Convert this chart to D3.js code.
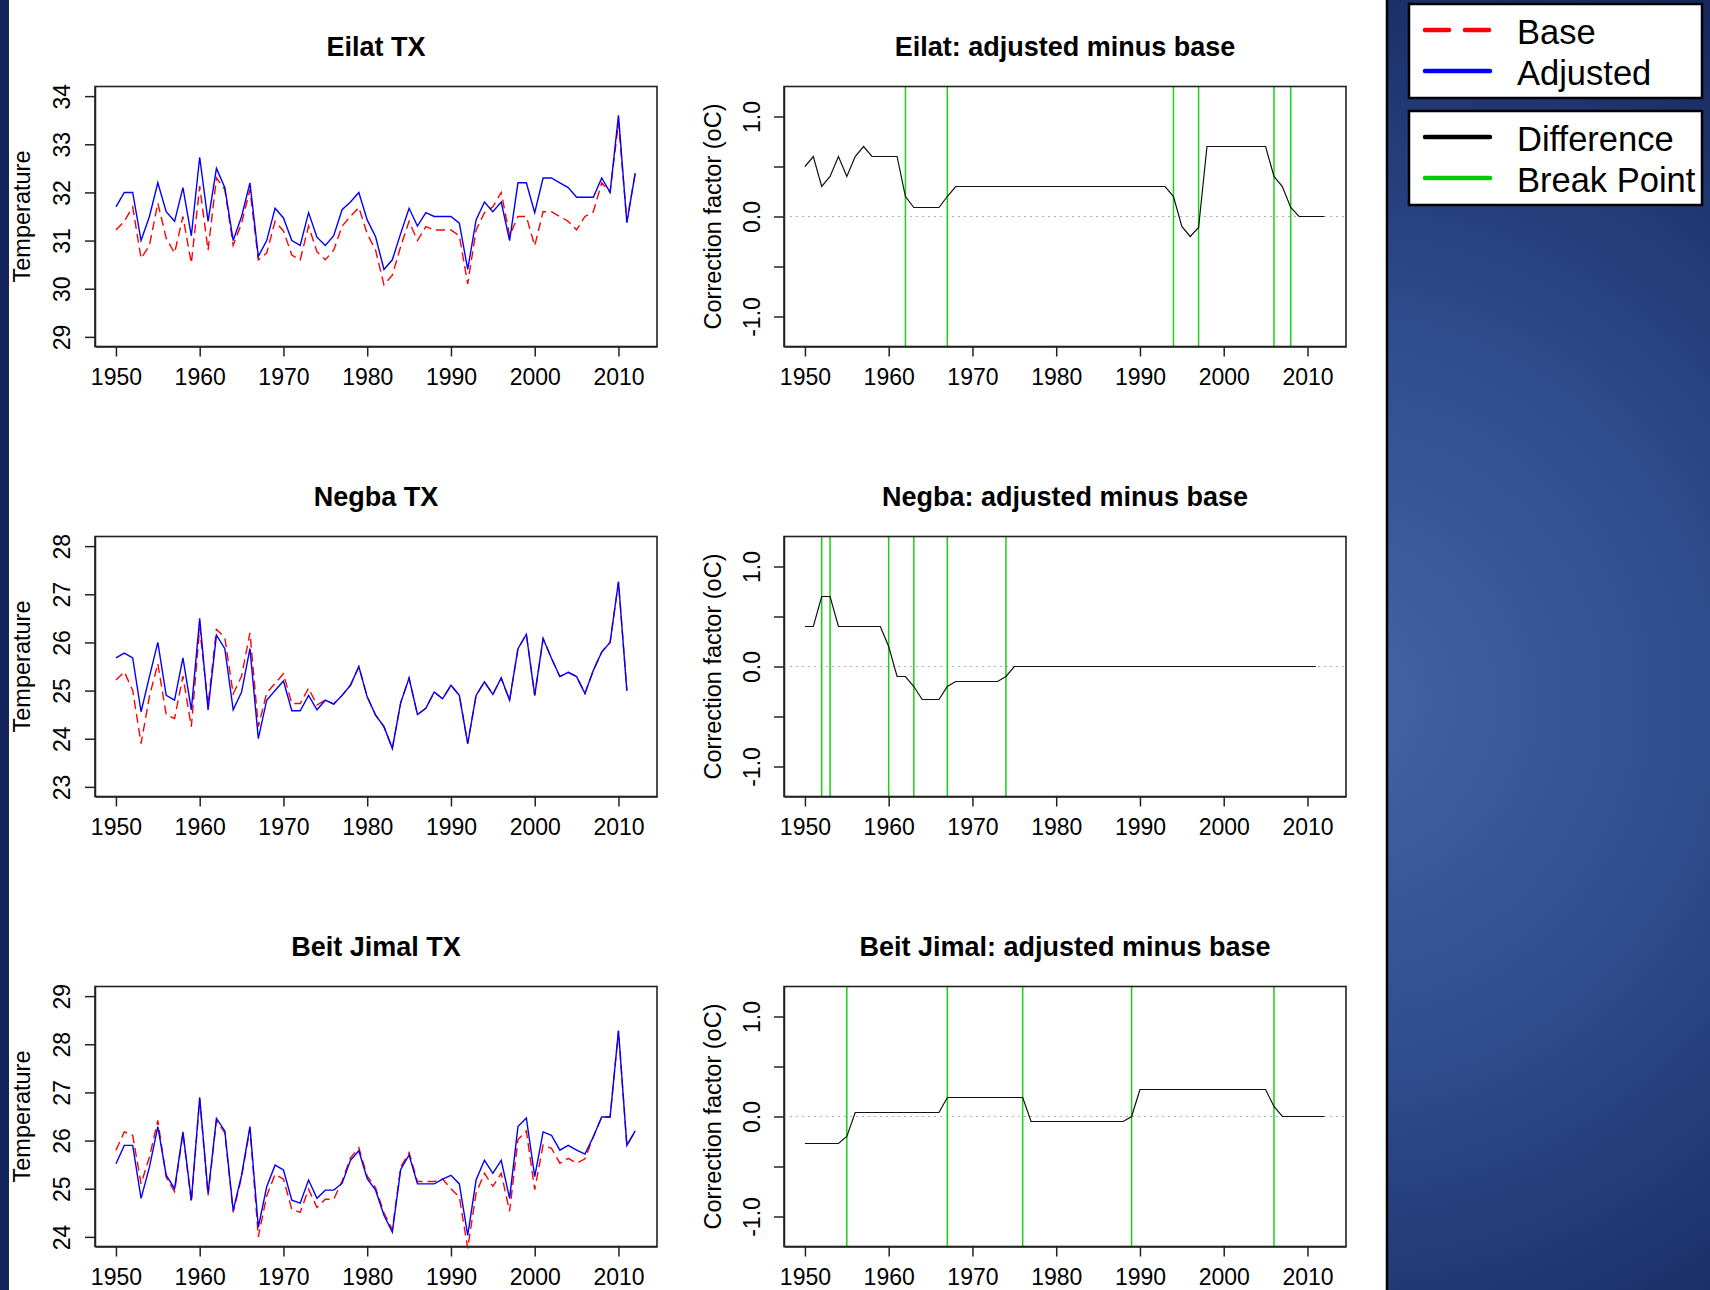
<!DOCTYPE html>
<html>
<head>
<meta charset="utf-8">
<script src="https://cdn.jsdelivr.net/npm/d3@7"></script>
<style>
  body { margin: 0; background: #1c2d66; }
  svg { display: block; }
</style>
</head>
<body>
<div id="chart"></div>
<script>
// years run from firstYear, one value per year
var firstYear = 1950;
var yearTicks = [1950, 1960, 1970, 1980, 1990, 2000, 2010];
var diffTicks = [-1, -0.5, 0, 0.5, 1];
var diffLabels = {"-1": "-1.0", "0": "0.0", "1": "1.0"};

// Eilat 1950-2012
var eilatTicks = [29, 30, 31, 32, 33, 34];
var eilatAdjusted = [31.7, 32.0, 32.0, 31.0, 31.5, 32.2, 31.6, 31.4, 32.1, 31.1,
  32.73, 31.4, 32.5, 32.1, 31.0, 31.5, 32.2, 30.67, 31.0, 31.67,
  31.47, 31.0, 30.9, 31.58, 31.07, 30.9, 31.1, 31.64, 31.8, 32.0,
  31.43, 31.08, 30.4, 30.6, 31.15, 31.67, 31.3, 31.58, 31.5, 31.5,
  31.5, 31.36, 30.4, 31.43, 31.8, 31.6, 31.8, 31.0, 32.2, 32.2,
  31.58, 32.3, 32.3, 32.2, 32.1, 31.9, 31.9, 31.9, 32.3, 32.0,
  33.6, 31.37, 32.4];
var eilatBase = [31.22, 31.4, 31.7, 30.63, 30.9, 31.78, 31.05, 30.74, 31.5, 30.53,
  32.13, 30.8, 32.3, 32.06, 30.9, 31.36, 32.06, 30.6, 30.74, 31.4,
  31.2, 30.7, 30.6, 31.3, 30.77, 30.6, 30.8, 31.3, 31.5, 31.69,
  31.14, 30.8, 30.08, 30.28, 30.88, 31.4, 31.0, 31.29, 31.22, 31.22,
  31.22, 31.1, 30.1, 31.22, 31.58, 31.7, 32.0, 31.1, 31.5, 31.5,
  30.89, 31.6, 31.6, 31.5, 31.4, 31.22, 31.5, 31.6, 32.2, 32.0,
  33.45, 31.4, 32.4];
var eilatDiff = [0.5, 0.6, 0.3, 0.4, 0.6, 0.4, 0.6, 0.7, 0.6, 0.6,
  0.6, 0.6, 0.2, 0.09, 0.09, 0.09, 0.09, 0.2, 0.3, 0.3,
  0.3, 0.3, 0.3, 0.3, 0.3, 0.3, 0.3, 0.3, 0.3, 0.3,
  0.3, 0.3, 0.3, 0.3, 0.3, 0.3, 0.3, 0.3, 0.3, 0.3,
  0.3, 0.3, 0.3, 0.3, 0.2, -0.1, -0.2, -0.11, 0.7, 0.7,
  0.7, 0.7, 0.7, 0.7, 0.7, 0.7, 0.4, 0.3, 0.09, 0,
  0, 0, 0];
var eilatBreaks = [1962, 1967, 1994, 1997, 2006, 2008];

// Negba 1950-2011
var negbaTicks = [23, 24, 25, 26, 27, 28];
var negbaAdjusted = [25.68, 25.78, 25.68, 24.56, 25.29, 26.0, 24.9, 24.8, 25.68, 24.6,
  26.5, 24.6, 26.15, 25.87, 24.6, 24.97, 25.87, 24.0, 24.8, 25.0,
  25.2, 24.58, 24.58, 24.9, 24.6, 24.8, 24.72, 24.9, 25.11, 25.5,
  24.87, 24.49, 24.25, 23.8, 24.75, 25.26, 24.5, 24.63, 24.97, 24.83,
  25.11, 24.9, 23.9, 24.9, 25.18, 24.92, 25.26, 24.8, 25.87, 26.17,
  24.9, 26.08, 25.67, 25.29, 25.38, 25.29, 24.94, 25.42, 25.8, 26.0,
  27.26, 25.0];
var negbaBase = [25.22, 25.39, 25.0, 23.9, 24.88, 25.56, 24.5, 24.42, 25.3, 24.25,
  26.3, 24.7, 26.27, 26.1, 24.93, 25.3, 26.2, 24.25, 24.95, 25.15,
  25.35, 24.73, 24.73, 25.05, 24.7, 24.8, 24.72, 24.9, 25.11, 25.5,
  24.87, 24.49, 24.25, 23.8, 24.75, 25.26, 24.5, 24.63, 24.97, 24.83,
  25.11, 24.9, 23.9, 24.9, 25.18, 24.92, 25.26, 24.8, 25.87, 26.17,
  24.9, 26.08, 25.67, 25.29, 25.38, 25.29, 24.94, 25.42, 25.8, 26.0,
  27.26, 25.0];
var negbaDiff = [0.4, 0.4, 0.7, 0.7, 0.4, 0.4, 0.4, 0.4, 0.4, 0.4,
  0.2, -0.1, -0.1, -0.2, -0.33, -0.33, -0.33, -0.2, -0.15, -0.15,
  -0.15, -0.15, -0.15, -0.15, -0.1, 0, 0, 0, 0, 0,
  0, 0, 0, 0, 0, 0, 0, 0, 0, 0,
  0, 0, 0, 0, 0, 0, 0, 0, 0, 0,
  0, 0, 0, 0, 0, 0, 0, 0, 0, 0,
  0, 0];
var negbaBreaks = [1952, 1953, 1960, 1963, 1967, 1974];

// Beit Jimal 1950-2012
var beitTicks = [24, 25, 26, 27, 28, 29];
var beitAdjusted = [25.52, 25.9, 25.9, 24.8, 25.45, 26.29, 25.28, 25.0, 26.18, 24.76,
  26.9, 24.9, 26.46, 26.2, 24.55, 25.28, 26.29, 24.2, 25.04, 25.49,
  25.39, 24.76, 24.7, 25.18, 24.8, 24.97, 24.97, 25.11, 25.59, 25.79,
  25.21, 24.97, 24.45, 24.1, 25.4, 25.7, 25.1, 25.1, 25.1, 25.2,
  25.28, 25.1, 24.03, 25.18, 25.59, 25.32, 25.59, 24.8, 26.29, 26.47,
  25.25, 26.18, 26.11, 25.8, 25.9, 25.8, 25.72, 26.08, 26.49, 26.49,
  28.28, 25.9, 26.2];
var beitBase = [25.8, 26.18, 26.11, 25.1, 25.66, 26.42, 25.24, 24.94, 26.15, 24.72,
  26.86, 24.86, 26.42, 26.16, 24.51, 25.24, 26.25, 24.0, 24.85, 25.3,
  25.2, 24.57, 24.51, 24.99, 24.61, 24.78, 24.78, 25.16, 25.64, 25.85,
  25.26, 25.02, 24.5, 24.15, 25.45, 25.75, 25.15, 25.15, 25.15, 25.2,
  25.0, 24.83, 23.76, 24.91, 25.32, 25.05, 25.32, 24.53, 26.02, 26.2,
  24.98, 25.91, 25.84, 25.53, 25.63, 25.53, 25.62, 26.08, 26.49, 26.49,
  28.28, 25.9, 26.2];
var beitDiff = [-0.27, -0.27, -0.27, -0.27, -0.27, -0.2, 0.04, 0.04, 0.04, 0.04,
  0.04, 0.04, 0.04, 0.04, 0.04, 0.04, 0.04, 0.19, 0.19, 0.19,
  0.19, 0.19, 0.19, 0.19, 0.19, 0.19, 0.19, -0.05, -0.05, -0.05,
  -0.05, -0.05, -0.05, -0.05, -0.05, -0.05, -0.05, -0.05, -0.05, 0,
  0.27, 0.27, 0.27, 0.27, 0.27, 0.27, 0.27, 0.27, 0.27, 0.27,
  0.27, 0.27, 0.27, 0.27, 0.27, 0.27, 0.1, 0, 0, 0,
  0, 0, 0];
var beitBreaks = [1955, 1967, 1976, 1989, 2006];

var stations = [
  {name: "Eilat", title: "Eilat  TX", ticks: eilatTicks, adj: eilatAdjusted, base: eilatBase, diff: eilatDiff, breaks: eilatBreaks},
  {name: "Negba", title: "Negba TX", ticks: negbaTicks, adj: negbaAdjusted, base: negbaBase, diff: negbaDiff, breaks: negbaBreaks},
  {name: "Beit Jimal", title: "Beit Jimal TX", ticks: beitTicks, adj: beitAdjusted, base: beitBase, diff: beitDiff, breaks: beitBreaks}
];

var legendA = [{label: "Base", color: "#ff0000", dash: "24,16"}, {label: "Adjusted", color: "#0000ff", dash: null}];
var legendB = [{label: "Difference", color: "#000000", dash: null}, {label: "Break Point", color: "#00cc00", dash: null}];

var W = 1710, H = 1290;
var font = "'Liberation Sans', Arial, sans-serif";
var rowStep = 450, boxTop = 86.5, boxH = 260;
var colLeft = [95, 784], boxW = 562;

var svg = d3.select("#chart").append("svg")
    .attr("width", W)
    .attr("height", H)
    .style("font-family", font);

var defs = svg.append("defs");
var grad = defs.append("radialGradient")
    .attr("id", "bg")
    .attr("gradientUnits", "userSpaceOnUse")
    .attr("cx", 1330).attr("cy", 700).attr("r", 820);
grad.append("stop").attr("offset", "0").attr("stop-color", "#4465a5");
grad.append("stop").attr("offset", "0.45").attr("stop-color", "#304d8d");
grad.append("stop").attr("offset", "1").attr("stop-color", "#14255b");

svg.append("rect").attr("width", W).attr("height", H).attr("fill", "url(#bg)");
// white plot sheet
svg.append("rect").attr("x", 9).attr("y", 0).attr("width", 1378).attr("height", H).attr("fill", "#fff");
svg.append("line").attr("x1", 1387).attr("x2", 1387).attr("y1", 0).attr("y2", H)
    .attr("stroke", "#000").attr("stroke-width", 2.5);

function yearX(left) {
  return d3.scaleLinear().domain([1947.5, 2014.6]).range([left, left + boxW]);
}

function styleAxis(g) {
  g.attr("font-size", null).attr("font-family", null);
  g.selectAll("line").attr("stroke", "#222").attr("stroke-width", 1.5);
  g.selectAll("path").attr("stroke", "#222").attr("stroke-width", 1.5);
  g.selectAll("text").attr("fill", "#000").style("font-size", "23px");
}

function rotateYLabels(g, offset) {
  g.selectAll("text")
      .attr("x", null)
      .attr("dy", "0.36em")
      .attr("text-anchor", "middle")
      .attr("transform", "translate(" + (-offset) + ",0) rotate(-90)");
}

function drawPanel(row, col, yDomain, title, yTitle, yTitleX) {
  var top = boxTop + row * rowStep;
  var left = colLeft[col];
  var x = yearX(left);
  var y = d3.scaleLinear().domain(yDomain).range([top + boxH, top]);

  svg.append("text")
      .attr("x", left + boxW / 2)
      .attr("y", top - 40)
      .attr("dy", "0.36em")
      .attr("text-anchor", "middle")
      .style("font-size", "27px")
      .style("font-weight", "bold")
      .text(title);

  svg.append("text")
      .attr("transform", "translate(" + yTitleX + "," + (top + boxH / 2) + ") rotate(-90)")
      .attr("dy", "0.36em")
      .attr("text-anchor", "middle")
      .style("font-size", "23.5px")
      .text(yTitle);

  svg.append("g")
      .attr("transform", "translate(0," + (top + boxH) + ")")
      .call(d3.axisBottom(x).tickValues(yearTicks).tickFormat(d3.format("d")).tickSize(10).tickSizeOuter(0).tickPadding(12))
      .call(styleAxis);

  return {x: x, y: y, top: top, left: left};
}

function drawBox(p) {
  svg.append("rect")
      .attr("x", p.left).attr("y", p.top)
      .attr("width", boxW).attr("height", boxH)
      .attr("fill", "none")
      .attr("stroke", "#222")
      .attr("stroke-width", 1.6);
}

stations.forEach(function(st, row) {
  // left column: base vs adjusted temperature
  var lo = st.ticks[0], hi = st.ticks[st.ticks.length - 1];
  var pad = (hi - lo) * 0.04;
  var p = drawPanel(row, 0, [lo - pad, hi + pad], st.title, "Temperature", 22);

  svg.append("g")
      .attr("transform", "translate(" + p.left + ",0)")
      .call(d3.axisLeft(p.y).tickValues(st.ticks).tickFormat(d3.format("d")).tickSize(10).tickSizeOuter(0))
      .call(styleAxis)
      .call(rotateYLabels, 33);

  var line = d3.line()
      .x(function(d, i) { return p.x(firstYear + i); })
      .y(function(d) { return p.y(d); });

  svg.append("path")
      .datum(st.base)
      .attr("d", line)
      .attr("fill", "none")
      .attr("stroke", "#ff0000")
      .attr("stroke-width", 1.4)
      .attr("stroke-dasharray", "9,5");

  svg.append("path")
      .datum(st.adj)
      .attr("d", line)
      .attr("fill", "none")
      .attr("stroke", "#0000ff")
      .attr("stroke-width", 1.4);

  drawBox(p);

  // right column: adjusted minus base
  var q = drawPanel(row, 1, [-1.3, 1.3], st.name + ": adjusted minus base", "Correction factor (oC)", 713);

  svg.append("g")
      .attr("transform", "translate(" + q.left + ",0)")
      .call(d3.axisLeft(q.y).tickValues(diffTicks)
          .tickFormat(function(d) { return diffLabels[String(d)] || ""; })
          .tickSize(10).tickSizeOuter(0))
      .call(styleAxis)
      .call(rotateYLabels, 32);

  svg.append("line")
      .attr("x1", q.left).attr("x2", q.left + boxW)
      .attr("y1", q.y(0)).attr("y2", q.y(0))
      .attr("stroke", "#b0b0b0")
      .attr("stroke-width", 1.2)
      .attr("stroke-dasharray", "2,4");

  svg.selectAll(null)
      .data(st.breaks)
      .enter()
      .append("line")
      .attr("x1", function(d) { return q.x(d); })
      .attr("x2", function(d) { return q.x(d); })
      .attr("y1", q.top).attr("y2", q.top + boxH)
      .attr("stroke", "#18d018")
      .attr("stroke-width", 1.5);

  var dline = d3.line()
      .x(function(d, i) { return q.x(firstYear + i); })
      .y(function(d) { return q.y(d); });

  svg.append("path")
      .datum(st.diff)
      .attr("d", dline)
      .attr("fill", "none")
      .attr("stroke", "#111")
      .attr("stroke-width", 1.2);

  drawBox(q);
});

// legend boxes on the right
function drawLegend(items, top) {
  svg.append("rect")
      .attr("x", 1409).attr("y", top)
      .attr("width", 293).attr("height", 94)
      .attr("fill", "#fff")
      .attr("stroke", "#000")
      .attr("stroke-width", 2.5);
  var g = svg.append("g");
  g.selectAll("line")
      .data(items)
      .enter()
      .append("line")
      .attr("x1", 1425).attr("x2", 1490)
      .attr("y1", function(d, i) { return top + 26 + i * 41; })
      .attr("y2", function(d, i) { return top + 26 + i * 41; })
      .attr("stroke", function(d) { return d.color; })
      .attr("stroke-width", 4.5)
      .attr("stroke-linecap", "round")
      .attr("stroke-dasharray", function(d) { return d.dash; });
  g.selectAll("text")
      .data(items)
      .enter()
      .append("text")
      .attr("x", 1517)
      .attr("y", function(d, i) { return top + 28 + i * 41; })
      .attr("dy", "0.36em")
      .style("font-size", "34.5px")
      .text(function(d) { return d.label; });
}
drawLegend(legendA, 4);
drawLegend(legendB, 111);
</script>
</body>
</html>
